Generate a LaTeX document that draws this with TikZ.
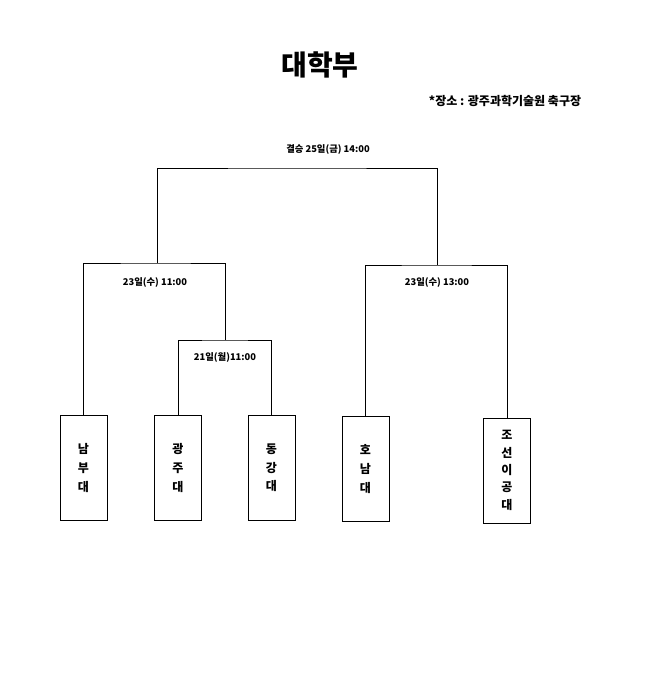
\documentclass[tikz,border=0pt]{standalone}
\usepackage{fontspec}
\newfontfamily\kr{Noto Sans CJK KR}
\usetikzlibrary{positioning}

\begin{document}
\begin{tikzpicture}[
        x=0.75pt, y=-0.75pt,
        team/.style={draw, minimum width=35pt, minimum height=79pt, font=\kr\bfseries\small, align=center, inner sep=0pt},
        time/.style={font=\kr\bfseries\scriptsize, inner sep=1pt}
        ]
        \useasboundingbox (0,0) rectangle (656,696);
        % Titles
        \node[font=\kr\bfseries\fontsize{21}{24}\selectfont] (title) at (320,65) {대학부};
        \node[font=\kr\bfseries\small] (place) at (505,101) {*장소 : 광주과학기술원 축구장};
        % Teams
        \node[team] (nambu) at (83.5,468) {남\\[3pt]부\\[3pt]대};
        \node[team] (gwangju) at (178,468) {광\\[3pt]주\\[3pt]대};
        \node[team] (donggang) at (271.5,468) {동\\[3pt]강\\[3pt]대};
        \node[team] (honam) at (365.5,469) {호\\[3pt]남\\[3pt]대};
        \node[team] (chosun) at (507,470.5) {조\\[2pt]선\\[2pt]이\\[2pt]공\\[2pt]대};
        % Junctions
        \coordinate (quarter) at (225,340);
        \coordinate (semiL) at (157,263);
        \coordinate (semiR) at (437,265);
        % Brackets
        \draw (gwangju.north) |- (quarter) -| (donggang.north);
        \draw (quarter) |- (semiL) -| (nambu.north);
        \draw (honam.north) |- (semiR) -| (chosun.north);
        \draw (semiL) |- (297,168) -| (semiR);
        % Times
        \node[time] (final) at (328,150) {결승 25일(금) 14:00};
        \node[time] (semi1) at (155,283) {23일(수) 11:00};
        \node[time] (semi2) at (437,283) {23일(수) 13:00};
        \node[time] (qf) at (225,358) {21일(월)11:00};
\end{tikzpicture}
\end{document}
